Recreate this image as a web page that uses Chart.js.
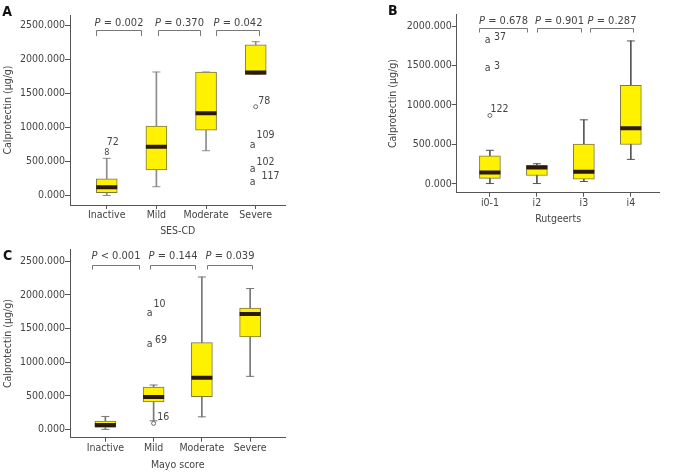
<!DOCTYPE html>
<html>
<head>
<meta charset="utf-8">
<script src="https://cdn.jsdelivr.net/npm/chart.js@4"></script>
<style>
  html, body { margin: 0; padding: 0; background: #fff; }
  #wrap { position: relative; width: 674px; height: 475px; overflow: hidden; }
  canvas { position: absolute; }
</style>
</head>
<body>
<div id="wrap">
  <canvas id="chartA" width="300" height="240" style="left:0;top:0;width:300px;height:240px"></canvas>
  <canvas id="chartB" width="334" height="235" style="left:340px;top:0;width:334px;height:235px"></canvas>
  <canvas id="chartC" width="300" height="240" style="left:0;top:235px;width:300px;height:240px"></canvas>
</div>
<script>
// Panel A - SES-CD
const sesCats = ['Inactive', 'Mild', 'Moderate', 'Severe'];
const sesLow = [0, 129, 657, 1774];
const sesQ1 = [41, 374, 960, 1774];
const sesMed = [120, 716, 1205, 1803];
const sesQ3 = [246, 1019, 1811, 2211];
const sesHigh = [545, 1811, 1811, 2255];
const sesOutCat = [0, 0, 3, 3, 3, 3];
const sesOutVal = [774, 633, 1302, 740, 384, 188];
const sesOutMark = ['', '', 'o', 'a', 'a', 'a'];
const sesOutLabel = ['72', '8', '78', '109', '102', '117'];
const sesP = ['= 0.002', '= 0.370', '= 0.042'];
const sesTicks = [0, 500, 1000, 1500, 2000, 2500];

// Panel B - Rutgeerts
const rutCats = ['i0-1', 'i2', 'i3', 'i4'];
const rutLow = [5, 5, 31, 311];
const rutQ1 = [71, 107, 59, 500];
const rutMed = [146, 208, 154, 705];
const rutQ3 = [355, 235, 504, 1250];
const rutHigh = [426, 256, 812, 1811];
const rutOutCat = [0, 0, 0];
const rutOutVal = [1814, 1468, 867];
const rutOutMark = ['a', 'a', 'o'];
const rutOutLabel = ['37', '3', '122'];
const rutP = ['= 0.678', '= 0.901', '= 0.287'];
const rutTicks = [0, 500, 1000, 1500, 2000];

// Panel C - Mayo score
const mayoCats = ['Inactive', 'Mild', 'Moderate', 'Severe'];
const mayoLow = [0, 127, 187, 789];
const mayoQ1 = [30, 408, 488, 1376];
const mayoMed = [64, 482, 769, 1716];
const mayoQ3 = [123, 630, 1292, 1805];
const mayoHigh = [192, 660, 2268, 2096];
const mayoOutCat = [1, 1, 1];
const mayoOutVal = [1725, 1262, 89];
const mayoOutMark = ['a', 'a', 'o'];
const mayoOutLabel = ['10', '69', '16'];
const mayoP = ['< 0.001', '= 0.144', '= 0.039'];
const mayoTicks = [0, 500, 1000, 1500, 2000, 2500];

const FONT = "'DejaVu Sans Condensed', 'DejaVu Sans', sans-serif";
const TEXT = '#444';
const AXIS = '#555';
const BOX_FILL = '#fff200';
const BOX_EDGE = '#7d7740';
const MEDIAN = '#2a1a0c';

// draws outlier glyphs/labels, p-value brackets and the panel letter
const annotate = {
  id: 'annotate',
  afterDatasetsDraw(chart, args, o) {
    const { ctx, chartArea } = chart;
    const x = chart.scales.x, y = chart.scales.y;
    ctx.save();
    ctx.fillStyle = TEXT;
    ctx.textAlign = 'center';
    ctx.textBaseline = 'middle';

    o.outCat.forEach((c, i) => {
      const px = x.getPixelForValue(c);
      const py = y.getPixelForValue(o.outVal[i]);
      const off = o.labelPos[i];
      if (o.outMark[i] === 'a') {
        ctx.font = '10.5px ' + FONT;
        ctx.fillText('a', px + o.aDx, py);
      }
      ctx.font = (o.outLabel[i] === '8' ? '9px ' : '10.5px ') + FONT;
      ctx.fillText(o.outLabel[i], px + off[0], py + off[1]);
    });

    ctx.strokeStyle = '#777';
    ctx.lineWidth = 1;
    o.brackets.forEach((b, i) => {
      const x0 = Math.round(x.getPixelForValue(b[0])) + 0.5;
      const x1 = Math.round(x.getPixelForValue(b[1])) + 0.5;
      const by = Math.round(chartArea.top + o.bracketY) + 0.5;
      ctx.beginPath();
      ctx.moveTo(x0, by + o.tail);
      ctx.lineTo(x0, by);
      ctx.lineTo(x1, by);
      ctx.lineTo(x1, by + o.tail);
      ctx.stroke();

      const rest = ' ' + o.pText[i];
      ctx.font = 'italic 11px ' + FONT;
      const wP = ctx.measureText('P').width;
      ctx.font = '11px ' + FONT;
      const wR = ctx.measureText(rest).width;
      const cx = (x0 + x1) / 2;
      const ty = chartArea.top + o.textY;
      ctx.textAlign = 'left';
      ctx.font = 'italic 11px ' + FONT;
      ctx.fillText('P', cx - (wP + wR) / 2, ty);
      ctx.font = '11px ' + FONT;
      ctx.fillText(rest, cx - (wP + wR) / 2 + wP, ty);
      ctx.textAlign = 'center';
    });

    ctx.fillStyle = '#111';
    ctx.font = 'bold 14px ' + FONT;
    ctx.fillText(o.letter, o.letterPos[0], o.letterPos[1]);
    ctx.restore();
  }
};

function makeBoxChart(id, d, lay) {
  const idx = d.cats.map((c, i) => i);
  const circles = [];
  d.outCat.forEach((c, i) => {
    if (d.outMark[i] === 'o') circles.push({ x: c, y: d.outVal[i] });
  });
  const tickFont = { family: FONT, size: 10.5 };

  new Chart(document.getElementById(id), {
    type: 'bar',
    data: {
      datasets: [
        {
          type: 'bar', order: 5, grouped: false, barThickness: 1,
          data: idx.map(i => ({ x: i, y: [d.low[i], d.high[i]] })),
          backgroundColor: lay.whisker
        },
        {
          type: 'bar', order: 4, grouped: false, barThickness: 21,
          data: idx.map(i => ({ x: i, y: [d.q1[i], d.q3[i]] })),
          backgroundColor: BOX_FILL, borderColor: BOX_EDGE, borderWidth: 1, borderSkipped: false
        },
        {
          type: 'line', order: 3, showLine: false,
          data: idx.map(i => ({ x: i, y: d.low[i] })),
          pointStyle: 'line', pointRadius: 4, borderColor: lay.whisker, borderWidth: 1
        },
        {
          type: 'line', order: 3, showLine: false,
          data: idx.map(i => ({ x: i, y: d.high[i] })),
          pointStyle: 'line', pointRadius: 4, borderColor: lay.whisker, borderWidth: 1
        },
        {
          type: 'line', order: 1, showLine: false,
          data: idx.map(i => ({ x: i, y: d.med[i] })),
          pointStyle: 'line', pointRadius: 10.5, borderColor: MEDIAN, borderWidth: 4
        },
        {
          type: 'line', order: 0, showLine: false, data: circles,
          pointStyle: 'circle', pointRadius: 2, borderColor: '#666', backgroundColor: '#fff', borderWidth: 1
        }
      ]
    },
    options: {
      responsive: false,
      animation: false,
      events: [],
      layout: { padding: lay.padding },
      plugins: {
        legend: { display: false },
        tooltip: { enabled: false },
        annotate: {
          outCat: d.outCat, outVal: d.outVal, outMark: d.outMark, outLabel: d.outLabel,
          labelPos: lay.labelPos, aDx: lay.aDx,
          pText: d.pText, brackets: lay.brackets, bracketY: lay.bracketY, tail: lay.tail, textY: lay.textY,
          letter: lay.letter, letterPos: lay.letterPos
        }
      },
      scales: {
        x: {
          type: 'linear', min: lay.xMin, max: lay.xMax, offset: false,
          afterBuildTicks: s => { s.ticks = idx.map(v => ({ value: v })); },
          afterFit: s => { s.height = lay.xHeight; },
          ticks: { callback: v => d.cats[v], color: TEXT, font: tickFont, padding: 0, maxRotation: 0, autoSkip: false },
          grid: { offset: false, drawOnChartArea: false, drawTicks: true, tickLength: 4, color: AXIS, tickColor: AXIS },
          border: { color: AXIS, width: 1 },
          title: { display: true, text: d.xTitle, color: TEXT, font: tickFont, padding: { top: 0, bottom: lay.xTitlePad } }
        },
        y: {
          min: lay.yMin, max: lay.yMax,
          afterBuildTicks: s => { s.ticks = d.yTicks.map(v => ({ value: v })); },
          afterFit: s => { s.width = lay.yWidth; },
          ticks: { callback: v => Number(v).toFixed(3), color: TEXT, font: tickFont, padding: 0 },
          grid: { drawOnChartArea: false, drawTicks: true, tickLength: 5, color: AXIS, tickColor: AXIS },
          border: { color: AXIS, width: 1 },
          title: { display: true, text: 'Calprotectin (\u03bcg/g)', color: TEXT, font: tickFont, padding: { top: lay.yTitlePad, bottom: 0 } }
        }
      }
    },
    plugins: [annotate]
  });
}

makeBoxChart('chartA', {
  cats: sesCats, low: sesLow, q1: sesQ1, med: sesMed, q3: sesQ3, high: sesHigh,
  outCat: sesOutCat, outVal: sesOutVal, outMark: sesOutMark, outLabel: sesOutLabel,
  pText: sesP, yTicks: sesTicks, xTitle: 'SES-CD'
}, {
  padding: { left: 0, top: 15, right: 13, bottom: 0 },
  xMin: -0.74, xMax: 3.6, yMin: -139, yMax: 2647,
  xHeight: 35, yWidth: 70, xTitlePad: 2.7, yTitlePad: 1.7,
  whisker: '#8c8c8c', aDx: -3,
  labelPos: [[6, 0], [0, 0], [8.5, -5.7], [9.7, -10], [9.7, -6.6], [14.7, -6]],
  brackets: [[-0.226, 0.68], [1.026, 1.88], [2.206, 3.06]],
  bracketY: 15.3, tail: 5.5, textY: 7.7,
  letter: 'A', letterPos: [7, 12]
});

makeBoxChart('chartB', {
  cats: rutCats, low: rutLow, q1: rutQ1, med: rutMed, q3: rutQ3, high: rutHigh,
  outCat: rutOutCat, outVal: rutOutVal, outMark: rutOutMark, outLabel: rutOutLabel,
  pText: rutP, yTicks: rutTicks, xTitle: 'Rutgeerts'
}, {
  padding: { left: 40, top: 2, right: 0, bottom: 0 },
  xMin: -0.707, xMax: 3.61, yMin: -111, yMax: 2146,
  xHeight: 42.3, yWidth: 76.7, xTitlePad: 9.4, yTitlePad: 6.7,
  whisker: '#555', aDx: -2.3,
  labelPos: [[10.2, -3], [7, -2], [9.7, -6]],
  brackets: [[-0.23, 0.795], [1.0, 1.93], [2.13, 3.04]],
  bracketY: 13, tail: 4, textY: 7,
  letter: 'B', letterPos: [52.7, 11]
});

makeBoxChart('chartC', {
  cats: mayoCats, low: mayoLow, q1: mayoQ1, med: mayoMed, q3: mayoQ3, high: mayoHigh,
  outCat: mayoOutCat, outVal: mayoOutVal, outMark: mayoOutMark, outLabel: mayoOutLabel,
  pText: mayoP, yTicks: mayoTicks, xTitle: 'Mayo score'
}, {
  padding: { left: 0, top: 13.3, right: 6.7, bottom: 0 },
  xMin: -0.733, xMax: 3.733, yMin: -124, yMax: 2677,
  xHeight: 37.3, yWidth: 70, xTitlePad: 3.7, yTitlePad: 2,
  whisker: '#777', aDx: -4,
  labelPos: [[5.8, -9.4], [7.5, -4], [9.6, -6.6]],
  brackets: [[-0.27, 0.70], [0.92, 1.85], [2.11, 3.03]],
  bracketY: 15, tail: 4, textY: 6.7,
  letter: 'C', letterPos: [7.5, 21.3]
});
</script>
</body>
</html>
